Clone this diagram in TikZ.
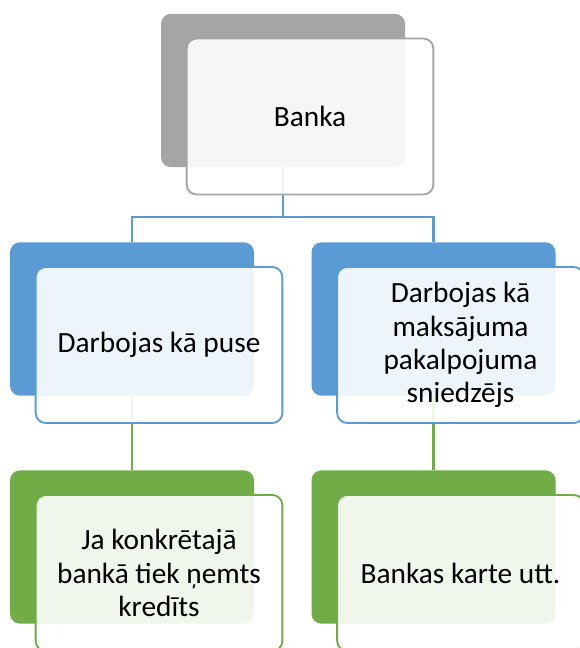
\documentclass[tikz,border=0pt]{standalone}
\usepackage{fontspec}
\setmainfont{Carlito}
\usepackage{tikz}
\definecolor{grayacc}{HTML}{A5A5A5}
\definecolor{blueacc}{HTML}{5B9BD5}
\definecolor{greenacc}{HTML}{70AD47}
\tikzset{
backbox/.style = {rounded corners=7.5pt, minimum width=183pt, minimum height=115pt, inner sep=0pt},
frontbox/.style = {draw, line width=1.4pt, rounded corners=7.5pt, fill=white, fill opacity=0.9,
                text opacity=1, minimum width=185pt, minimum height=117pt, inner sep=0pt,
                align=center, font=\fontsize{22}{25}\selectfont},
link/.style = {line width=1.8pt}
}

\begin{document}
\begin{tikzpicture}[x=0.75pt, y=-0.75pt]
    \useasboundingbox (0,0) rectangle (579,648);

    \node [backbox, fill=grayacc, name=bankabg] at (283,90.5) (bankabg) {};
    \node [backbox, fill=blueacc, name=pusebg] at (132,319) (pusebg) {};
    \node [backbox, fill=blueacc, name=maksbg] at (433.5,319) (maksbg) {};
    \node [backbox, fill=greenacc, name=kredbg] at (132,547) (kredbg) {};
    \node [backbox, fill=greenacc, name=kartebg] at (433.5,547) (kartebg) {};

    \coordinate (split) at (283,217);
    \draw [link, blueacc] (bankabg.south) -- (split) -| (pusebg.north);
    \draw [link, blueacc] (split) -| (maksbg.north);
    \draw [link, greenacc] (pusebg.south) -- (kredbg.north);
    \draw [link, greenacc] (maksbg.south) -- (kartebg.north);

    \node [frontbox, draw=grayacc, name=banka] at ([shift={(27,26)}]bankabg.center) (banka) {Banka};
    \node [frontbox, draw=blueacc, name=puse] at ([shift={(27,26)}]pusebg.center) (puse)
    {Darbojas kā puse};
    \node [frontbox, draw=blueacc, name=maks] at ([shift={(27,26)}]maksbg.center) (maks)
    {Darbojas kā\\maksājuma\\pakalpojuma\\sniedzējs};
    \node [frontbox, draw=greenacc, name=kred] at ([shift={(27,26)}]kredbg.center) (kred)
    {Ja konkrētajā\\bankā tiek ņemts\\kredīts};
    \node [frontbox, draw=greenacc, name=karte] at ([shift={(27,26)}]kartebg.center) (karte)
    {Bankas karte utt.};

\end{tikzpicture}
\end{document}
